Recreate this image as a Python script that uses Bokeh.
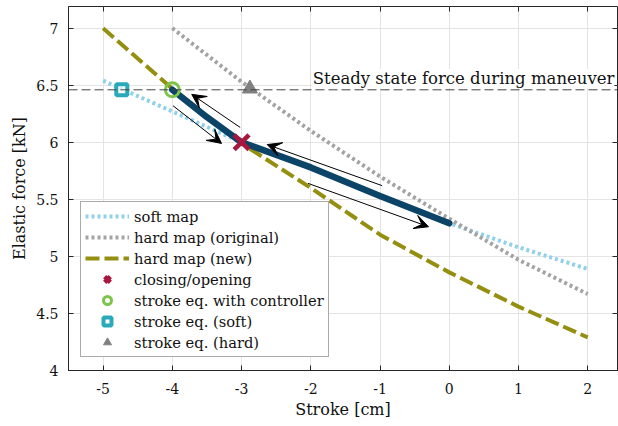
from bokeh.plotting import figure
from bokeh.models import (ColumnDataSource, Span, Label, Arrow, VeeHead, Legend,
                          LegendItem, LinearAxis, FixedTicker, Range1d)
from bokeh.embed import file_html
from bokeh.resources import INLINE

FONT = "DejaVu Serif"

# ---- data ----
stroke = [-5, -4, -3, -2, -1, 0, 1, 2]
soft_map = [6.54, 6.27, 6.00, 5.77, 5.53, 5.29, 5.08, 4.89]

stroke_orig = [-4, -3, -2, -1, 0, 1, 2]
hard_map_orig = [7.00, 6.53, 6.10, 5.70, 5.33, 4.97, 4.67]

hard_map_new = [7.00, 6.47, 5.99, 5.60, 5.19, 4.86, 4.56, 4.29]

ctrl_stroke = [-4, -3.5, -3, -2, -1, 0]
ctrl_force = [6.46, 6.22, 6.00, 5.78, 5.53, 5.29]

steady_force = 6.46

closing_x, closing_y = [-3.0], [6.0]
ctrl_eq_x, ctrl_eq_y = [-4.0], [6.46]
soft_eq_x, soft_eq_y = [-4.73], [6.46]
hard_eq_x, hard_eq_y = [-2.88], [6.47]

arrow_x0 = [-3.02, -3.99, -0.97, -2.04]
arrow_y0 = [6.13, 6.32, 5.62, 5.64]
arrow_x1 = [-3.72, -3.29, -2.63, -0.30]
arrow_y1 = [6.42, 5.99, 5.98, 5.26]

x_ticks = [-5, -4, -3, -2, -1, 0, 1, 2]
x_tick_labels = ["-5", "-4", "-3", "-2", "-1", "0", "1", "2"]
y_ticks = [4, 4.5, 5, 5.5, 6, 6.5, 7]
y_tick_labels = ["4", "4.5", "5", "5.5", "6", "6.5", "7"]

# ---- figure ----
p = figure(width=618, height=426, x_range=Range1d(-5.5, 2.43), y_range=Range1d(4, 7.19),
           output_backend="svg", toolbar_location=None,
           min_border_left=68, min_border_right=1, min_border_top=6, min_border_bottom=56)
p.outline_line_color = "#262626"
p.outline_line_width = 1
p.background_fill_color = "white"

xa = p.below[0]
ya = p.left[0]
xa.ticker = FixedTicker(ticks=x_ticks)
ya.ticker = FixedTicker(ticks=y_ticks)
xa.major_label_overrides = {t: s for t, s in zip(x_ticks, x_tick_labels)}
ya.major_label_overrides = {t: s for t, s in zip(y_ticks, y_tick_labels)}
for ax in (xa, ya):
    ax.axis_line_color = "#262626"
    ax.major_tick_line_color = "#262626"
    ax.major_tick_in = 5
    ax.major_tick_out = 0
    ax.minor_tick_in = 0
    ax.minor_tick_out = 0
    ax.major_label_text_font = FONT
    ax.major_label_text_font_size = "14px"
    ax.major_label_text_color = "#111111"
    ax.axis_label_text_font = FONT
    ax.axis_label_text_font_size = "16px"
    ax.axis_label_text_font_style = "normal"
    ax.axis_label_text_color = "#111111"
xa.major_label_standoff = 12
xa.axis_label_standoff = 3
ya.major_label_standoff = 10
ya.axis_label_standoff = 4
xa.axis_label = "Stroke [cm]"
ya.axis_label = "Elastic force [kN]"

p.xgrid.ticker = FixedTicker(ticks=x_ticks)
p.ygrid.ticker = FixedTicker(ticks=y_ticks)
p.grid.grid_line_color = "#e4e4e4"
p.grid.grid_line_width = 1

# top/right inward ticks (labels hidden)
top = LinearAxis(ticker=FixedTicker(ticks=x_ticks), major_label_text_font_size="1px",
                 major_label_text_color=None,
                 axis_line_color=None, major_tick_in=5, major_tick_out=0,
                 minor_tick_in=0, minor_tick_out=0, major_label_standoff=0,
                 major_tick_line_color="#262626")
right = LinearAxis(ticker=FixedTicker(ticks=y_ticks), major_label_text_font_size="1px",
                   major_label_text_color=None,
                   axis_line_color=None, major_tick_in=5, major_tick_out=0,
                   minor_tick_in=0, minor_tick_out=0, major_label_standoff=0,
                   major_tick_line_color="#262626")
p.add_layout(top, "above")
p.add_layout(right, "right")

# ---- lines ----
r_soft = p.line(stroke, soft_map, line_color="#8fd0ea", line_width=4, line_dash="3 3")
r_orig = p.line(stroke_orig, hard_map_orig, line_color="#a3a3a3", line_width=4, line_dash="3 3")
r_new = p.line(stroke, hard_map_new, line_color="#948f10", line_width=4, line_dash="14 5")
p.line(ctrl_stroke, ctrl_force, line_color="#0c4468", line_width=6.5, line_cap="round")

p.add_layout(Span(location=steady_force, dimension="width", line_color="#444444",
                  line_width=1, line_dash="9 4"))
p.add_layout(Label(x=2.385, y=6.476, text="Steady state force during maneuver",
                   text_align="right", text_baseline="bottom", text_font=FONT,
                   text_font_size="16.5px", text_color="#111111",
                   background_fill_color="white"))

# ---- arrows ----
asrc = ColumnDataSource(dict(x0=arrow_x0, y0=arrow_y0, x1=arrow_x1, y1=arrow_y1))
p.add_layout(Arrow(end=VeeHead(size=14, fill_color="black", line_color="black", line_width=1),
                   x_start="x0", y_start="y0", x_end="x1", y_end="y1", source=asrc,
                   line_color="black", line_width=1))

# ---- markers ----
r_close = p.scatter(closing_x, closing_y, marker="x", size=21, line_width=4.5, line_color="#a8183e")
r_ctrl = p.scatter(ctrl_eq_x, ctrl_eq_y, marker="circle", size=14, line_width=3,
                   line_color="#7ec34a", fill_alpha=0)
r_softeq = p.scatter(soft_eq_x, soft_eq_y, marker="square", size=11, line_width=4,
                     line_color="#2aa9ba", fill_color="white", fill_alpha=0.6)
r_hardeq = p.scatter(hard_eq_x, hard_eq_y, marker="triangle", size=15, line_width=1,
                     line_color="#808080", fill_color="#808080")

legend = Legend(items=[
    LegendItem(label="soft map", renderers=[r_soft]),
    LegendItem(label="hard map (original)", renderers=[r_orig]),
    LegendItem(label="hard map (new)", renderers=[r_new]),
    LegendItem(label="closing/opening", renderers=[r_close]),
    LegendItem(label="stroke eq. with controller", renderers=[r_ctrl]),
    LegendItem(label="stroke eq. (soft)", renderers=[r_softeq]),
    LegendItem(label="stroke eq. (hard)", renderers=[r_hardeq]),
], location=(12, 13))
legend.label_text_font = FONT
legend.label_text_font_size = "14.7px"
legend.label_text_color = "#111111"
legend.glyph_width = 44
legend.glyph_height = 20
legend.label_height = 20
legend.label_standoff = 5
legend.spacing = 1
legend.padding = 4
legend.margin = 0
legend.border_line_color = "#555555"
legend.border_line_width = 1
legend.background_fill_color = "white"
legend.background_fill_alpha = 1
p.add_layout(legend)

open("out.html", "w").write(file_html(p, INLINE))
